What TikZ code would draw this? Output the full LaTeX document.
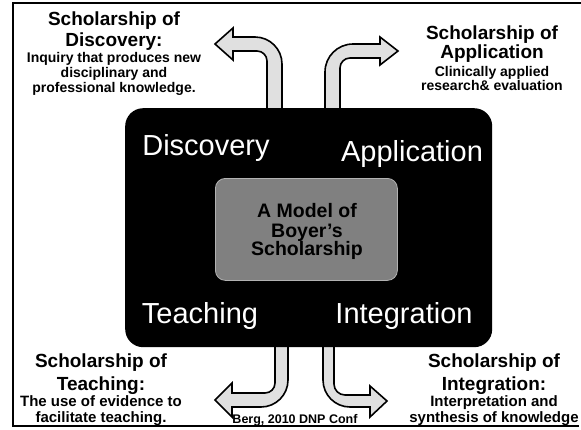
\documentclass[tikz,border=0pt]{standalone}
\usepackage{fontspec}
\setmainfont{Liberation Sans}
\begin{document}
\begin{tikzpicture}[x=1pt,y=-1pt,
  arrowshape/.style={draw=black, line width=1.6pt, fill=black!12, line join=miter},
  frameline/.style={draw=black, line width=2pt},
  title/.style={font=\bfseries\fontsize{19}{21}\selectfont, anchor=base, inner sep=0pt},
  subt/.style={font=\bfseries\fontsize{14}{16}\selectfont, anchor=base, inner sep=0pt},
  subtb/.style={font=\bfseries\fontsize{15}{17}\selectfont, anchor=base, inner sep=0pt},
  credit/.style={font=\bfseries\fontsize{12.5}{14}\selectfont, anchor=base, inner sep=0pt},
  boxlabel/.style={text=white, font=\fontsize{29}{32}\selectfont, anchor=base, inner sep=0pt},
  centerlabel/.style={font=\bfseries\fontsize{19.5}{21}\selectfont, anchor=base, inner sep=0pt}]
\useasboundingbox (0,0) rectangle (581,429);
% frame
\draw[frameline] (581,2.5) -- (12.5,2.5) -- (12.5,426) -- (579,426);
% curved block arrows
\draw[arrowshape] (267,112) -- (267,61) arc[start angle=0,end angle=-90,radius=10]
  -- (233,51) -- (233,60) -- (215,44) -- (233,28) -- (233,37) -- (255,37)
  arc[start angle=-90,end angle=0,radius=27] -- (282,112) -- cycle;
\draw[arrowshape] (325,112) -- (325,72) arc[start angle=180,end angle=270,radius=28]
  -- (380,44) -- (380,37) -- (398,51) -- (380,65) -- (380,58) -- (350,58)
  arc[start angle=270,end angle=180,radius=10] -- (340,112) -- cycle;
\draw[arrowshape] (275,340) -- (275,383) arc[start angle=0,end angle=90,radius=10]
  -- (232,393) -- (232,383) -- (215,400) -- (232,417) -- (232,407) -- (261,407)
  arc[start angle=90,end angle=0,radius=27] -- (288,340) -- cycle;
\draw[arrowshape] (323,340) -- (323,380) arc[start angle=180,end angle=90,radius=27]
  -- (370,407) -- (370,417) -- (387,401) -- (370,386) -- (370,395) -- (345,395)
  arc[start angle=90,end angle=180,radius=11] -- (334,340) -- cycle;
% main box
\node[fill=black, rounded corners=18pt, minimum width=367pt, minimum height=239pt,
  anchor=north west, inner sep=0pt] (box) at (125,108) {};
\node[fill=black!50, draw=black!30, line width=0.8pt, rounded corners=10pt,
  minimum width=182pt, minimum height=102pt, anchor=north west, inner sep=0pt] (core) at (215,178) {};
\node[centerlabel] (c1) at (307,217) {A Model of};
\node[centerlabel] (c2) at (307,237) {Boyer's};
\node[centerlabel] (c3) at (307,255) {Scholarship};
\node[boxlabel] (disc) at (206,155) {Discovery};
\node[boxlabel] (appl) at (412,161) {Application};
\node[boxlabel] (teach) at (200,323) {Teaching};
\node[boxlabel] (integ) at (404,323) {Integration};
% top-left text
\node[title] (tl1) at (114,25) {Scholarship of};
\node[title] (tl2) at (114,46.5) {Discovery:};
\node[subt] (tl3) at (114,62) {Inquiry that produces new};
\node[subt] (tl4) at (114,77) {disciplinary and};
\node[subt] (tl5) at (114,92) {professional knowledge.};
% top-right text
\node[title] (tr1) at (492,39) {Scholarship of};
\node[title] (tr2) at (492,58) {Application};
\node[subt] (tr3) at (492,76) {Clinically applied};
\node[subt] (tr4) at (492,90) {research\& evaluation};
% bottom-left text
\node[title] (bl1) at (101,367) {Scholarship of};
\node[title] (bl2) at (101,390) {Teaching:};
\node[subtb] (bl3) at (101,406) {The use of evidence to};
\node[subtb] (bl4) at (101,422) {facilitate teaching.};
% bottom-right text
\node[title] (br1) at (494,367) {Scholarship of};
\node[title] (br2) at (494,390) {Integration:};
\node[subtb] (br3) at (494,406) {Interpretation and};
\node[subtb] (br4) at (494,422) {synthesis of knowledge};
% credit
\node[credit] (cred) at (295,423) {Berg, 2010 DNP Conf};
\end{tikzpicture}
\end{document}
